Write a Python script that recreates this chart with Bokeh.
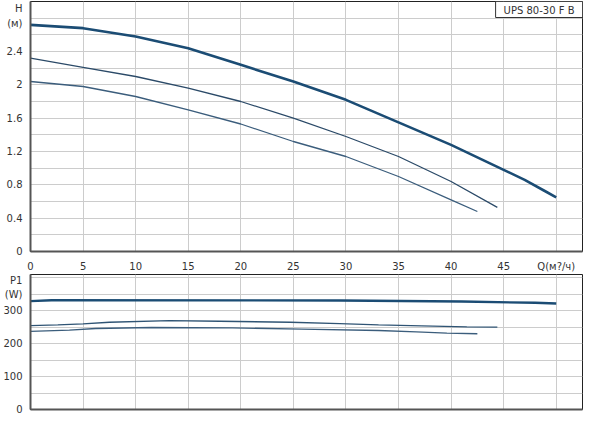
from bokeh.plotting import figure
from bokeh.layouts import column
from bokeh.models import Range1d, FixedTicker, Label
from bokeh.embed import file_html
from bokeh.resources import INLINE

# ---- data ----
Q_max = [0, 5, 10, 15, 20, 25, 30, 35, 40, 45, 47, 49, 50]
H_max = [2.72, 2.68, 2.58, 2.44, 2.24, 2.04, 1.82, 1.55, 1.28, 0.98, 0.86, 0.72, 0.65]

Q_mid = [0, 5, 10, 15, 20, 25, 30, 35, 40, 44.4]
H_mid = [2.32, 2.21, 2.10, 1.96, 1.80, 1.60, 1.38, 1.14, 0.84, 0.53]

Q_min = [0, 5, 10, 15, 20, 25, 30, 35, 40, 42.5]
H_min = [2.04, 1.98, 1.86, 1.70, 1.53, 1.32, 1.14, 0.90, 0.62, 0.48]

Qp_max = [0, 2, 29.5, 41, 48, 50]
P_max = [329, 332, 331, 328, 324, 322]

Qp_mid = [0, 2.6, 5, 7.5, 13.2, 18, 24.7, 29.4, 33.1, 37.2, 41.5, 44.4]
P_mid = [255, 257, 260, 265, 270, 268, 265, 261, 257, 254, 251, 250]

Qp_min = [0, 3.7, 6.2, 11.5, 19.2, 25.8, 33.1, 36.7, 39.6, 42.5]
P_min = [237, 241, 246, 249, 248, 244, 240, 236, 232, 230]

x_ticks = [0, 5, 10, 15, 20, 25, 30, 35, 40, 45, 50]
x_labels = ["0", "5", "10", "15", "20", "25", "30", "35", "40", "45", "Q(м?/ч)"]
h_ticks = [0, 0.4, 0.8, 1.2, 1.6, 2.0, 2.4, 2.74, 2.92]
h_labels = ["0", "0.4", "0.8", "1.2", "1.6", "2", "2.4", "(м)", "H"]
h_grid = [0.2 * i for i in range(15)]
p_ticks = [0, 100, 200, 300, 350, 396]
p_labels = ["0", "100", "200", "300", "(W)", "P1"]
p_grid = [50 * i for i in range(9)]
title_text = "UPS 80-30 F B"

FONT = "DejaVu Sans"
TXT = "#333333"
GRID = "#cccccc"
AXIS = "#555555"


def style(p, yt, ylabels, ygrid):
    p.yaxis.ticker = FixedTicker(ticks=yt)
    p.yaxis.major_label_overrides = dict(zip(yt, ylabels))
    p.ygrid.ticker = FixedTicker(ticks=ygrid)
    p.xgrid.ticker = FixedTicker(ticks=x_ticks)
    for ax in (p.xaxis[0], p.yaxis[0]):
        ax.axis_line_color = AXIS
        ax.axis_line_width = 2
        ax.major_tick_line_color = None
        ax.minor_tick_line_color = None
        ax.major_label_text_font = FONT
        ax.major_label_text_font_size = "10px"
        ax.major_label_text_color = TXT
    p.yaxis.major_label_standoff = 2
    p.xgrid.grid_line_color = GRID
    p.ygrid.grid_line_color = GRID
    p.outline_line_color = "#222222"
    p.outline_line_width = 1
    p.background_fill_color = "white"
    p.border_fill_color = "white"


p1 = figure(frame_width=552, frame_height=250, x_range=Range1d(0, 52.5), y_range=Range1d(0, 3.0),
            output_backend="svg", toolbar_location=None,
            min_border_left=23, min_border_right=5, min_border_top=1, min_border_bottom=15)
style(p1, h_ticks, h_labels, h_grid)
p1.xaxis.ticker = FixedTicker(ticks=x_ticks)
p1.xaxis.major_label_standoff = 3
p1.xaxis.major_label_overrides = dict(zip(x_ticks, x_labels))

p1.line(Q_mid, H_mid, line_color="#2b4a68", line_width=1.3)
p1.line(Q_min, H_min, line_color="#3b5d7c", line_width=1.3)
p1.line(Q_max, H_max, line_color="#1b4c74", line_width=2.6)

p1.add_layout(Label(x=52.5, y=3.0, text=title_text, anchor="top_right",
                    text_font=FONT, text_font_size="10px", text_color=TXT,
                    border_line_color="#333333", border_line_width=1,
                    background_fill_color="white",
                    padding=dict(left=8, right=8, top=3, bottom=2)))

p2 = figure(frame_width=552, frame_height=135, x_range=p1.x_range, y_range=Range1d(0, 410),
            output_backend="svg", toolbar_location=None,
            min_border_left=23, min_border_right=5, min_border_top=0, min_border_bottom=5)
style(p2, p_ticks, p_labels, p_grid)
p2.xaxis.ticker = FixedTicker(ticks=[])
p2.xaxis.major_label_standoff = 0

p2.line(Qp_mid, P_mid, line_color="#2f5474", line_width=1.3)
p2.line(Qp_min, P_min, line_color="#3b5d7c", line_width=1.3)
p2.line(Qp_max, P_max, line_color="#1b4c74", line_width=2.4)

layout = column(p1, p2, spacing=0)
open("out.html", "w").write(file_html(layout, INLINE))
